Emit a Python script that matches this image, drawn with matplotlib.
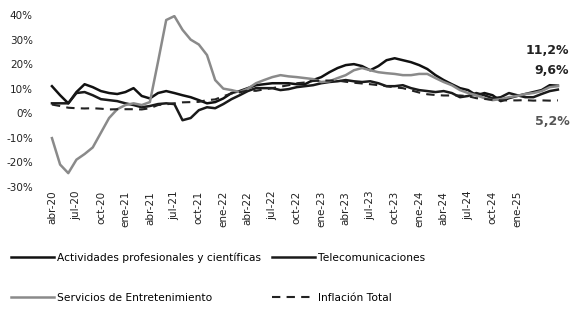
import matplotlib
matplotlib.use("Agg")
import matplotlib.pyplot as plt
import numpy as np

# monthly series, abr-20 .. jun-25 (variacion anual, %)
tick_labels = ["abr-20", "jul-20", "oct-20", "ene-21", "abr-21", "jul-21", "oct-21",
               "ene-22", "abr-22", "jul-22", "oct-22", "ene-23", "abr-23", "jul-23",
               "oct-23", "ene-24", "abr-24", "jul-24", "oct-24", "ene-25"]

actividades = [11, 7.3, 4, 8.6, 11.8, 10.6, 9, 8.2, 7.8, 8.6, 10.2, 7, 6, 8.2, 9, 8.2,
               7.3, 6.5, 5.3, 4, 4.5, 6, 8.2, 9, 10.2, 11.4, 11.8, 12.2, 12.2, 12.2,
               11.8, 11.8, 13.5, 14.7, 16.7, 18.4, 19.6, 20, 19.2, 17.5, 19.2, 21.6,
               22.4, 21.6, 20.8, 19.6, 18, 15.5, 13.5, 11.8, 10.2, 9.4, 7.3, 8.2, 7.3,
               4.9, 6.1, 7, 7.8, 8.6, 9.4, 11.4, 11.2]

telecom = [4, 4, 4, 8.2, 8.6, 7.3, 5.7, 5.3, 4.9, 4, 3.3, 2.4, 2.9, 3.7, 4, 3.7,
           -2.9, -2, 1.2, 2.4, 2, 3.7, 5.7, 7.3, 9, 10.2, 10.2, 10.2, 9.4, 9.8,
           10.6, 11, 11.4, 12.2, 12.7, 13, 13.5, 13, 12.7, 13, 12.2, 11, 11, 11.4,
           10.2, 9.4, 9, 8.6, 9, 8.2, 6.5, 7, 8.2, 7.3, 6, 6.5, 8.2, 7.3, 6.5, 6.5,
           7.8, 9, 9.6]

entretenimiento = [-10.2, -21, -24.5, -19, -16.7, -14, -8, -2, 1.6, 3.3, 4, 3.3, 4.5,
                   21, 38, 39.6, 34, 30, 28, 23.7, 13.5, 10, 9.4, 8.6, 10, 12.2, 13.5,
                   14.7, 15.5, 15, 14.7, 14.3, 13.9, 12.7, 13, 14.3, 15.5, 17.5, 18.4,
                   17.5, 16.7, 16.3, 16, 15.5, 15.5, 16, 16, 14.3, 12.7, 11.4, 9.4, 8.2,
                   7.3, 6.1, 5.3, 5.7, 6.5, 7, 7.8, 8.2, 9, 10.6, 11]

inflacion = [3.5, 2.9, 2.2, 2.0, 1.9, 2.0, 1.8, 1.5, 1.6, 1.6, 1.6, 1.5, 2.0, 3.3, 3.6,
             4.0, 4.4, 4.5, 4.6, 5.3, 5.6, 6.9, 8.0, 8.5, 9.2, 9.1, 9.7, 10.2, 10.8,
             11.4, 12.2, 12.5, 13.1, 13.3, 13.3, 13.3, 12.8, 12.4, 12.1, 11.8, 11.4,
             11.0, 10.5, 10.2, 9.3, 8.4, 7.7, 7.4, 7.2, 7.2, 7.2, 6.9, 6.1, 5.8, 5.4,
             5.2, 5.2, 5.2, 5.3, 5.1, 5.2, 5.1, 5.2]

end_labels = ["11,2%", "9,6%", "5,2%"]

x = np.arange(len(actividades))

fig = plt.figure(figsize=(5.71, 3.10), dpi=100)
ax = fig.add_axes([0.0867, 0.398, 0.8975, 0.5532])

l1, = ax.plot(x, actividades, color="#111111", lw=1.8)
l2, = ax.plot(x, telecom, color="#1a1a1a", lw=1.8)
l3, = ax.plot(x, entretenimiento, color="#8a8a8a", lw=1.8)
l4, = ax.plot(x, inflacion, color="#222222", lw=1.5, ls=(0, (4, 3)))

ax.set_xlim(-0.3, 62.5)
ax.set_ylim(-30, 40)
ax.set_yticks(np.arange(-30, 41, 10))
ax.set_yticklabels([f"{v}%" for v in range(-30, 41, 10)], fontsize=7.5, color="#222222")
ax.set_xticks(np.arange(0, 3 * len(tick_labels), 3))
ax.set_xticklabels(tick_labels, rotation=90, fontsize=7.5, color="#222222")
ax.tick_params(length=0, axis="y", pad=12)
ax.tick_params(length=0, axis="x", pad=3)
for s in ax.spines.values():
    s.set_visible(False)

# end-of-series labels, kept inside the figure's right edge
ax.text(63.4, 25.5, end_labels[0], fontsize=9, fontweight="bold", va="center",
        ha="right", color="#222222", clip_on=False)
ax.text(63.4, 17.5, end_labels[1], fontsize=9, fontweight="bold", va="center",
        ha="right", color="#222222", clip_on=False)
ax.text(63.4, -3.5, end_labels[2], fontsize=9, fontweight="bold", va="center",
        ha="right", color="#555555", clip_on=False)

fig.legend([l1, l3, l2, l4],
           ["Actividades profesionales y científicas", "Servicios de Entretenimiento",
            "Telecomunicaciones", "Inflación Total"],
           loc="upper left", bbox_to_anchor=(0.02, 0.185), ncol=2, frameon=False,
           fontsize=7.7, handlelength=4, handletextpad=0.3, labelspacing=2.8,
           columnspacing=1.0, borderpad=0, borderaxespad=0)

fig.savefig("out.png", dpi=100)
